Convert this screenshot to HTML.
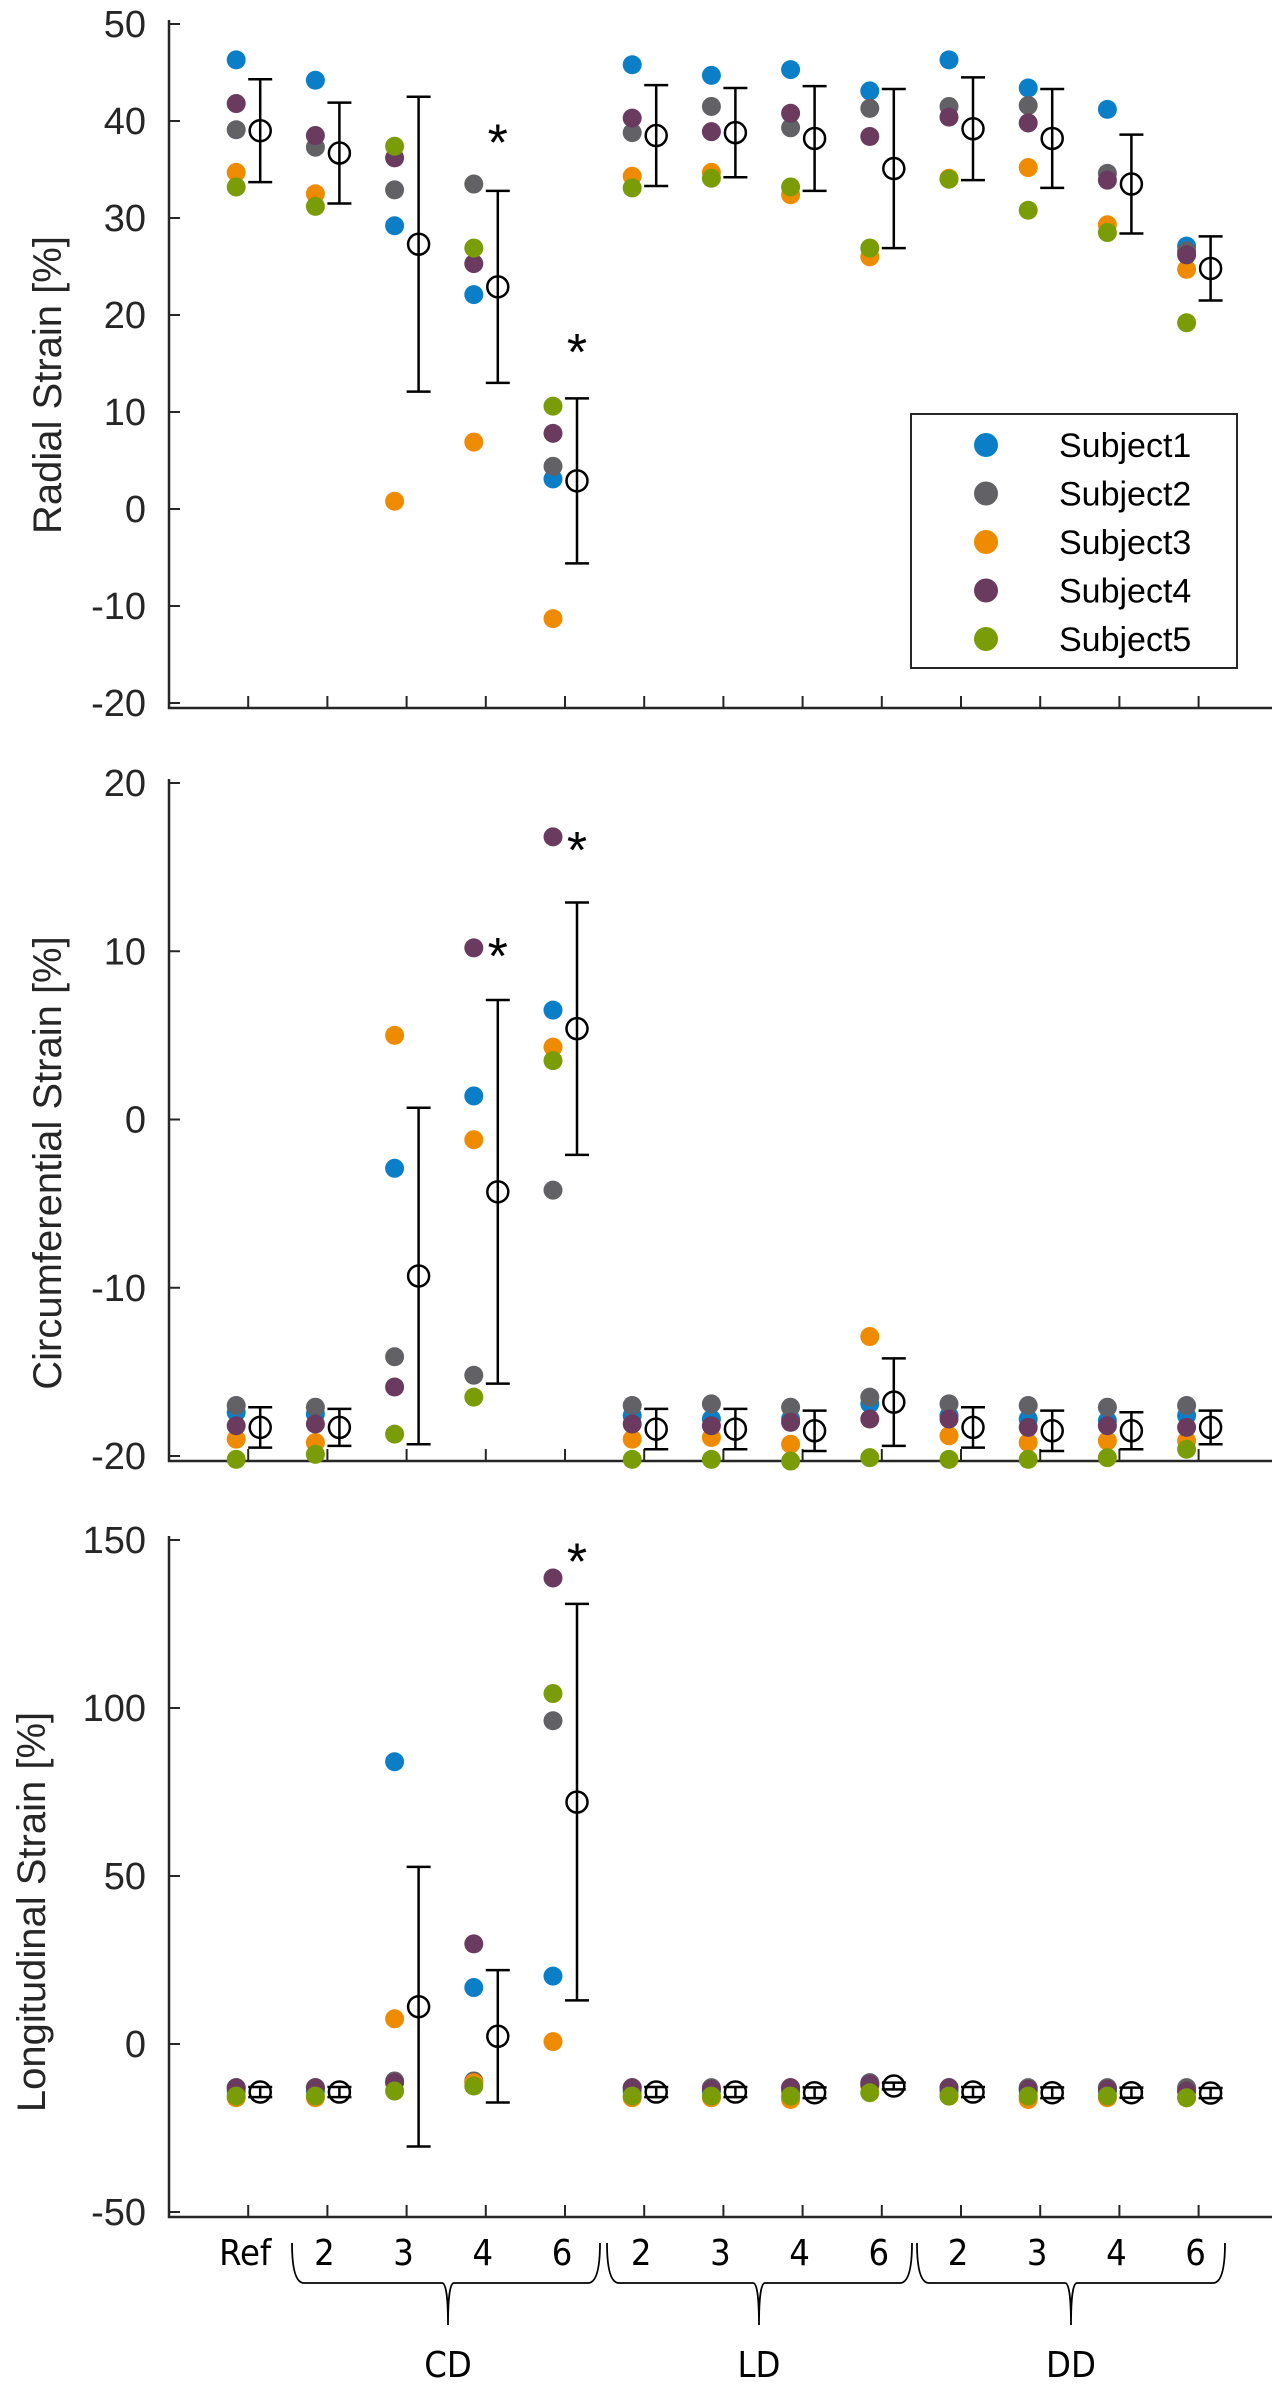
<!DOCTYPE html>
<html><head><meta charset="utf-8"><style>
html,body{margin:0;padding:0;background:#fff}
svg{display:block}
text{font-family:"Liberation Sans",sans-serif;fill:#262626}
.xl{font-family:"DejaVu Sans Condensed","DejaVu Sans",sans-serif;font-stretch:condensed;fill:#000}
</style></head><body>
<svg id="chart" width="1275" height="2400" viewBox="0 0 1275 2400" xmlns="http://www.w3.org/2000/svg"></svg>
<script>
const categories=["Ref","2","3","4","6","2","3","4","6","2","3","4","6"];
const subjects=["Subject1","Subject2","Subject3","Subject4","Subject5"];
const colors=["#0a7fc8","#616166","#ee8b00","#6a3b5f","#7a9c07"];
// Radial
const radialS1=[46.3,44.2,29.2,22.1,3.1,45.8,44.7,45.3,43.1,46.3,43.4,41.2,27.1];
const radialS2=[39.1,37.3,32.9,33.5,4.4,38.8,41.5,39.3,41.3,41.5,41.6,34.6,26.6];
const radialS3=[34.7,32.5,0.8,6.9,-11.3,34.3,34.7,32.4,26.0,34.1,35.2,29.3,24.7];
const radialS4=[41.8,38.5,36.2,25.3,7.8,40.3,38.9,40.8,38.4,40.4,39.8,33.9,26.2];
const radialS5=[33.2,31.2,37.4,26.9,10.6,33.1,34.1,33.2,26.9,34.0,30.8,28.5,19.2];
const radialMean=[39.0,36.7,27.3,22.9,2.9,38.5,38.8,38.2,35.1,39.2,38.2,33.5,24.8];
const radialErr=[5.3,5.2,15.2,9.9,8.5,5.2,4.6,5.4,8.2,5.3,5.1,5.1,3.3];
const radialStarIdx=[3,4];
const radialStarVal=[38.6,17];
// Circumferential
const circS1=[-17.4,-17.5,-2.9,1.4,6.5,-17.6,-17.8,-17.8,-16.9,-17.6,-17.8,-17.9,-17.6];
const circS2=[-17.0,-17.1,-14.1,-15.2,-4.2,-17.0,-16.9,-17.1,-16.5,-16.9,-17.0,-17.1,-17.0];
const circS3=[-19.0,-19.2,5.0,-1.2,4.3,-19.0,-18.9,-19.3,-12.9,-18.8,-19.2,-19.1,-19.1];
const circS4=[-18.2,-18.1,-15.9,10.2,16.8,-18.1,-18.2,-18.0,-17.8,-17.8,-18.3,-18.2,-18.3];
const circS5=[-20.2,-19.9,-18.7,-16.5,3.5,-20.2,-20.2,-20.3,-20.1,-20.2,-20.2,-20.1,-19.6];
const circMean=[-18.3,-18.3,-9.3,-4.3,5.4,-18.4,-18.4,-18.5,-16.8,-18.3,-18.5,-18.5,-18.3];
const circErr=[1.2,1.1,10.0,11.4,7.5,1.2,1.2,1.2,2.6,1.2,1.2,1.1,1.0];
const circStarIdx=[3,4];
const circStarVal=[10.2,16.5];
// Longitudinal
const longS1=[-14,-14,84,16.8,20.2,-14,-14,-14,-12,-14,-14,-14,-14];
const longS2=[-13,-13,-11,-11,96.2,-13,-13,-13,-11.5,-13,-13,-13,-13];
const longS3=[-16,-16,7.5,-11.5,0.7,-16,-16,-16.5,-12.5,-15.5,-16.5,-16,-16];
const longS4=[-13,-13,-11.5,29.8,138.7,-13,-13.5,-13,-12,-13,-13.5,-13.5,-14];
const longS5=[-15.5,-15.5,-14,-12.5,104.3,-15.5,-15.5,-15.5,-14.5,-15.5,-15.5,-15.5,-16];
const longMean=[-14.3,-14.3,11.1,2.3,72.0,-14.3,-14.3,-14.5,-12.5,-14.3,-14.5,-14.5,-14.6];
const longErr=[1.5,1.5,41.6,19.7,59.0,1.5,1.5,1.6,1.0,1.5,1.6,1.5,1.5];
const longStarIdx=[4];
const longStarVal=[146];
const radialTicks=[50,40,30,20,10,0,-10,-20];
const circTicks=[20,10,0,-10,-20];
const longTicks=[150,100,50,0,-50];

const NS="http://www.w3.org/2000/svg";
const svg=document.getElementById("chart");
function el(tag,attrs,parent){const e=document.createElementNS(NS,tag);for(const k in attrs)e.setAttribute(k,attrs[k]);(parent||svg).appendChild(e);return e;}
const AX=169, AXR=1272;
function xPos(i){return 248.2+i*79.2;}

function panel(name,title,series,mean,err,starIdx,starVal,ticks,vmin,vmax,ytop,ybot,titleY,titleX){
  const g=el("g",{});
  
  
  const y=v=>ytop+(vmax-v)/(vmax-vmin)*(ybot-ytop);
  const axisY=ybot+5;
  const ax=el("path",{d:`M${AX},${ytop-4}V${axisY}H${AXR}`,stroke:"#262626","stroke-width":2.5,fill:"none"},g);
  
  
  ticks.forEach(t=>{
    el("line",{x1:AX,x2:AX+11,y1:y(t),y2:y(t),stroke:"#262626","stroke-width":2},g);
    const tl=el("text",{x:146,y:y(t)+13,"text-anchor":"end","font-size":38},g);
    tl.textContent=t;
    
    
  });
  categories.forEach((c,i)=>{el("line",{x1:xPos(i),x2:xPos(i),y1:axisY,y2:axisY-12,stroke:"#262626","stroke-width":2},g);});
  const yt=el("text",{x:0,y:0,"text-anchor":"middle","font-size":40,transform:`translate(${titleX},${titleY}) rotate(-90)`},g);
  yt.textContent=title;
  
  
  series.forEach((s,k)=>{
    s.forEach((v,i)=>{
      const c=el("circle",{cx:xPos(i)-12,cy:y(v),r:9.5,fill:colors[k]},g);
      
      
    });
  });
  mean.forEach((m,i)=>{
    const mx=xPos(i)+12;
    const eg=el("g",{stroke:"#000","stroke-width":2.5,fill:"none"},g);
    
    
    const hi=y(m+err[i]),lo=y(m-err[i]);
    el("line",{x1:mx,x2:mx,y1:hi,y2:lo},eg);
    el("line",{x1:mx-12,x2:mx+12,y1:hi,y2:hi},eg);
    el("line",{x1:mx-12,x2:mx+12,y1:lo,y2:lo},eg);
    el("circle",{cx:mx,cy:y(m),r:10.5,fill:"none"},eg);
  });
  starIdx.forEach((i,j)=>{
    const st=el("text",{x:xPos(i)+12,y:y(starVal[j])+26,"text-anchor":"middle","font-size":52,style:"fill:#000"},g);
    st.textContent="*";
    
    
  });
}
panel("radial","Radial Strain [%]",[radialS1,radialS2,radialS3,radialS4,radialS5],radialMean,radialErr,radialStarIdx,radialStarVal,radialTicks,-20,50,24,703,385,61);
panel("circumferential","Circumferential Strain [%]",[circS1,circS2,circS3,circS4,circS5],circMean,circErr,circStarIdx,circStarVal,circTicks,-20,20,783,1456,1163,61);
panel("longitudinal","Longitudinal Strain [%]",[longS1,longS2,longS3,longS4,longS5],longMean,longErr,longStarIdx,longStarVal,longTicks,-50,150,1540,2212,1912,45);

// legend
const lg=el("g",{});


el("rect",{x:911,y:414,width:326,height:254,fill:"#fff",stroke:"#262626","stroke-width":2},lg);
subjects.forEach((s,k)=>{
  const ly=445+k*48.5;
  const e=el("g",{},lg);
  
  
  el("circle",{cx:986,cy:ly,r:12,fill:colors[k]},e);
  const t=el("text",{x:1059,y:ly+12,"font-size":34,style:"fill:#000"},e);
  t.textContent=s;
});
// x labels
categories.forEach((c,i)=>{
  const t=el("text",{x:xPos(i)-3,y:2265,"text-anchor":"middle","font-size":36,class:"xl"});
  t.textContent=c;
  
  
});
const groups=[["CD",292,600,448],["LD",607,912,759],["DD",917,1225,1071]];
groups.forEach(([n,a,b,m])=>{
  const p=el("path",{d:`M${a},2243 Q${a},2283 ${a+12},2283 L${m-6},2283 Q${m},2283 ${m},2325 Q${m},2283 ${m+6},2283 L${b-12},2283 Q${b},2283 ${b},2243`,stroke:"#000","stroke-width":1.8,fill:"none"});
  
  
  const t=el("text",{x:m,y:2377,"text-anchor":"middle","font-size":36,class:"xl"});
  t.textContent=n;
  
  
});
</script>
</body></html>
